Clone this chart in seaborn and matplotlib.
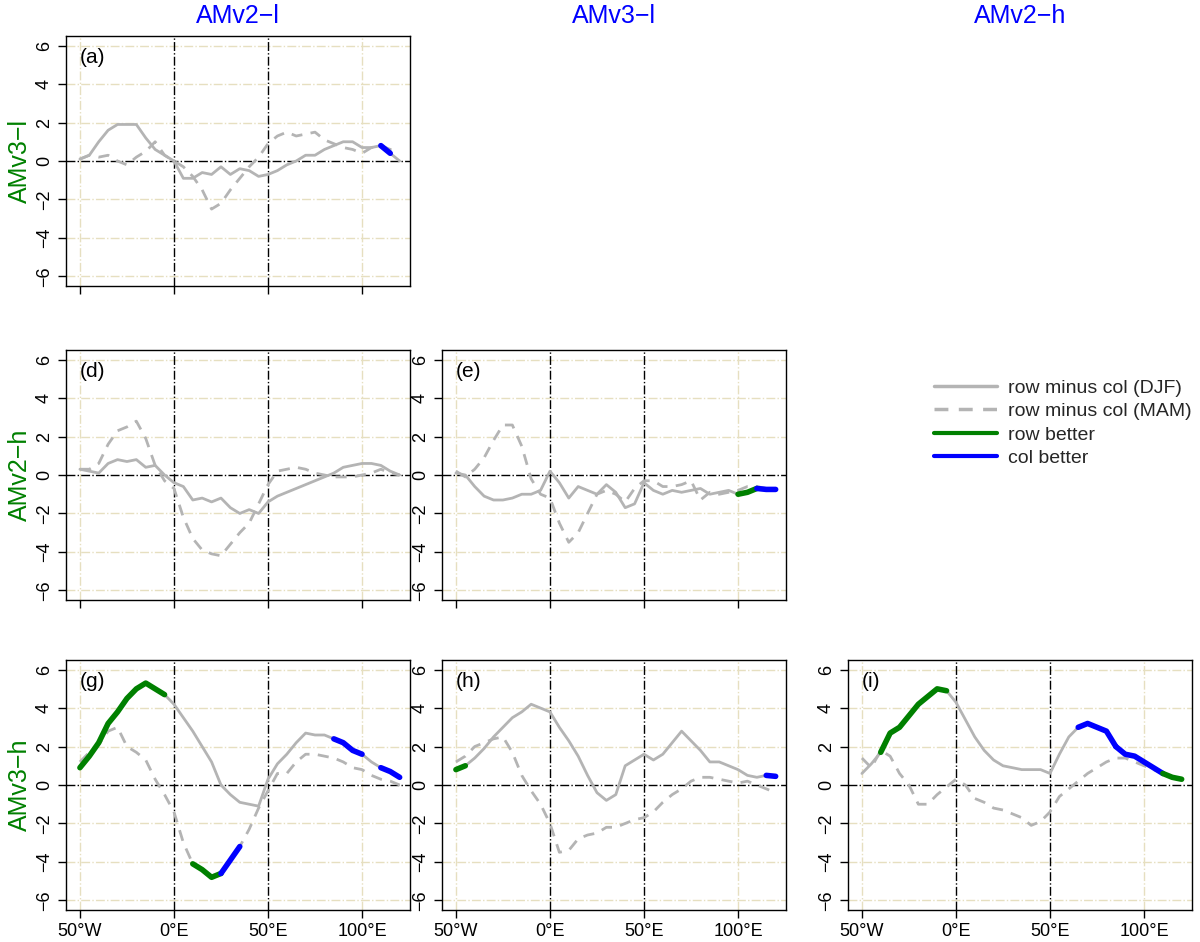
import numpy as np
import pandas as pd
import matplotlib
matplotlib.use("Agg")
import matplotlib.pyplot as plt
import seaborn as sns
from matplotlib.lines import Line2D

lon = list(range(-50, 121, 5))
col_titles = ["AMv2\u2212l", "AMv3\u2212l", "AMv2\u2212h"]
row_titles = ["AMv3\u2212l", "AMv2\u2212h", "AMv3\u2212h"]

a_djf = [0.1,0.3,1.0,1.6,1.9,1.9,1.9,1.2,0.6,0.3,0,-0.9,-0.9,-0.6,-0.7,-0.3,-0.7,-0.4,-0.5,-0.8,-0.7,-0.5,-0.2,0.0,0.3,0.3,0.6,0.8,1.0,1.0,0.7,0.7,0.8,0.4,0.0]
a_mam = [0.1,0.3,0.2,0.3,0.0,-0.2,0.2,0.5,1.0,0.3,0,-0.3,-0.8,-1.5,-2.5,-2.2,-1.5,-0.9,-0.3,0.2,0.9,1.3,1.5,1.3,1.4,1.5,1.1,0.9,0.7,0.6,0.4,0.7,0.8,0.6,0.6]
d_djf = [0.3,0.2,0.1,0.6,0.8,0.7,0.8,0.4,0.5,0.0,-0.4,-0.6,-1.3,-1.2,-1.4,-1.2,-1.7,-2.0,-1.8,-2.0,-1.4,-1.1,-0.9,-0.7,-0.5,-0.3,-0.1,0.1,0.4,0.5,0.6,0.6,0.5,0.2,0.0]
d_mam = [0.3,0.3,0.6,1.6,2.3,2.5,2.8,1.9,0.5,-0.3,-0.7,-2.2,-3.3,-3.9,-4.1,-4.2,-3.6,-3.0,-2.5,-1.5,-0.5,0.2,0.3,0.4,0.3,0.1,0.0,-0.1,-0.1,-0.1,0.0,0.1,0.3,0.1,0.0]
e_djf = [0.1,0.0,-0.6,-1.1,-1.3,-1.3,-1.2,-1.0,-1.0,-0.8,0.2,-0.4,-1.2,-0.6,-0.8,-1.0,-0.5,-0.9,-1.7,-1.5,-0.4,-0.8,-1.0,-0.8,-0.9,-0.8,-0.7,-1.0,-0.9,-0.8,-1.0,-0.9,-0.7,-0.75,-0.75]
e_mam = [0.2,-0.1,0.3,0.9,1.8,2.6,2.6,1.5,-0.2,-1.0,-1.2,-2.5,-3.5,-3.0,-2.0,-1.0,-0.8,-1.0,-1.4,-0.7,-0.3,-0.3,-0.6,-0.6,-0.5,-0.3,-1.3,-0.9,-1.0,-0.9,-0.8,-0.6,-0.6,-0.7,-0.8]
g_djf = [0.9,1.5,2.2,3.2,3.8,4.5,5.0,5.3,5.0,4.7,4.2,3.5,2.8,2.0,1.2,0.0,-0.5,-0.9,-1.0,-1.1,0.3,1.1,1.6,2.2,2.7,2.6,2.6,2.4,2.2,1.8,1.6,1.2,0.9,0.7,0.4]
g_mam = [1.2,1.7,2.1,2.8,3.0,2.0,1.7,1.3,0.3,-0.5,-1.4,-3.0,-4.1,-4.4,-4.8,-4.6,-3.9,-3.2,-2.3,-1.2,-0.3,0.6,0.6,1.2,1.6,1.6,1.5,1.4,1.2,0.9,0.8,0.5,0.3,0.2,0.0]
h_djf = [0.8,1.0,1.4,1.9,2.5,3.0,3.5,3.8,4.2,4.0,3.8,3.0,2.3,1.5,0.5,-0.4,-0.8,-0.5,1.0,1.3,1.6,1.3,1.6,2.2,2.8,2.3,1.8,1.2,1.2,1.0,0.8,0.5,0.4,0.5,0.45]
h_mam = [1.2,1.5,2.0,2.2,2.4,2.5,1.7,0.5,-0.3,-1.0,-2.0,-3.5,-3.4,-2.8,-2.6,-2.5,-2.2,-2.2,-2.0,-1.8,-1.7,-1.4,-0.9,-0.5,-0.2,0.2,0.4,0.4,0.3,0.2,0.1,0.2,0.0,-0.2,-0.4]
i_djf = [0.6,1.1,1.7,2.7,3.0,3.6,4.2,4.6,5.0,4.9,4.3,3.4,2.5,1.8,1.3,1.0,0.9,0.8,0.8,0.8,0.6,1.6,2.5,3.0,3.2,3.0,2.8,2.0,1.6,1.5,1.2,0.9,0.6,0.4,0.3]
i_mam = [1.4,0.9,1.8,1.5,0.6,0.0,-1.0,-1.0,-0.5,-0.1,0.3,0.0,-0.7,-0.9,-1.2,-1.3,-1.5,-1.7,-2.1,-1.9,-1.4,-0.6,-0.2,0.2,0.6,0.9,1.2,1.4,1.4,1.2,1.0,0.8,0.6,0.4,0.3]

# highlight ranges: (series, lon_start, lon_end, colour)
a_hl = [("djf", 110, 115, "blue")]
d_hl = []
e_hl = [("djf", 100, 110, "green"), ("djf", 110, 120, "blue")]
g_hl = [("djf", -50, -5, "green"), ("djf", 85, 100, "blue"), ("djf", 110, 120, "blue"),
        ("mam", 10, 25, "green"), ("mam", 25, 35, "blue")]
h_hl = [("djf", -50, -45, "green"), ("djf", 115, 120, "blue")]
i_hl = [("djf", -40, -5, "green"), ("djf", 65, 85, "blue"), ("djf", 85, 110, "blue"), ("djf", 110, 120, "green")]

panels = {
    (0, 0): ("(a)", a_djf, a_mam, a_hl),
    (1, 0): ("(d)", d_djf, d_mam, d_hl),
    (1, 1): ("(e)", e_djf, e_mam, e_hl),
    (2, 0): ("(g)", g_djf, g_mam, g_hl),
    (2, 1): ("(h)", h_djf, h_mam, h_hl),
    (2, 2): ("(i)", i_djf, i_mam, i_hl),
}

sns.set_style("white")
plt.rcParams['font.family'] = ['Liberation Sans', 'DejaVu Sans']
fig = plt.figure(figsize=(12, 9.42), dpi=100)
W, H = 1200, 942
lefts = [66, 442, 848]
tops = [36, 350, 660]
aw, ah = 344, 250
grey = "#b4b4b4"
beige = "#e6dfc0"

for (r, c), (lab, djf, mam, hl) in panels.items():
    ax = fig.add_axes([lefts[c] / W, 1 - (tops[r] + ah) / H, aw / W, ah / H])
    for gx in [-50, 100]:
        ax.axvline(gx, color=beige, lw=1, ls="-.", zorder=0)
    for gy in [-6, -4, -2, 2, 4, 6]:
        ax.axhline(gy, color=beige, lw=1, ls="-.", zorder=0)
    for gx in [0, 50]:
        ax.axvline(gx, color="black", lw=1, ls="-.", zorder=1)
    ax.axhline(0, color="black", lw=1, ls="-.", zorder=1)
    df = pd.DataFrame({"lon": lon, "djf": djf, "mam": mam})
    sns.lineplot(data=df, x="lon", y="djf", ax=ax, color=grey, lw=2, zorder=2)
    sns.lineplot(data=df, x="lon", y="mam", ax=ax, color=grey, lw=2, zorder=2, dashes=False,
                 linestyle=(0, (4, 3)))
    for ser, s0, s1, col in hl:
        sub = df[(df.lon >= s0) & (df.lon <= s1)]
        sns.lineplot(data=sub, x="lon", y=ser, ax=ax, color=col, lw=4, zorder=3)
    ax.set_xlim(-57.4, 125.5)
    ax.set_ylim(-6.5, 6.5)
    ax.set_xlabel("")
    ax.set_ylabel("")
    ax.set_yticks([-6, -4, -2, 0, 2, 4, 6])
    ax.set_yticklabels(["\u22126", "\u22124", "\u22122", "0", "2", "4", "6"], rotation=90, va="center", fontsize=13)
    ax.set_xticks([-50, 0, 50, 100])
    if r == 2:
        ax.set_xticklabels(["50\u00b0W", "0\u00b0E", "50\u00b0E", "100\u00b0E"], fontsize=13)
    else:
        ax.set_xticklabels([])
    ax.tick_params(axis="both", direction="out", length=6, width=1, color="black",
                   labelcolor="black", left=True, bottom=True)
    for sp in ax.spines.values():
        sp.set_color("black")
        sp.set_linewidth(1)
    ax.text(-50, 5.4, lab, fontsize=15, va="center", ha="left", color="black")
    if c == 0:
        ax.text(-0.135, 0.5, row_titles[r], transform=ax.transAxes, rotation=90, color="green",
                fontsize=18, va="center", ha="center")

col_centers = [238, 614, 1020]
for c, t in enumerate(col_titles):
    fig.text(col_centers[c] / W, 1 - 16 / H, t, color="blue", fontsize=18, ha="center", va="center")

handles = [Line2D([], [], color=grey, lw=2.5),
           Line2D([], [], color=grey, lw=2.5, ls=(0, (4, 3))),
           Line2D([], [], color="green", lw=3),
           Line2D([], [], color="blue", lw=3)]
labels = ["row minus col (DJF)", "row minus col (MAM)", "row better", "col better"]
fig.legend(handles, labels, loc="center right", bbox_to_anchor=(1192 / W, 1 - 423 / H),
           frameon=False, fontsize=14, handlelength=3.2, handletextpad=0.6, labelspacing=0.3,
           borderaxespad=0, borderpad=0)

fig.savefig("out.png", dpi=100)
